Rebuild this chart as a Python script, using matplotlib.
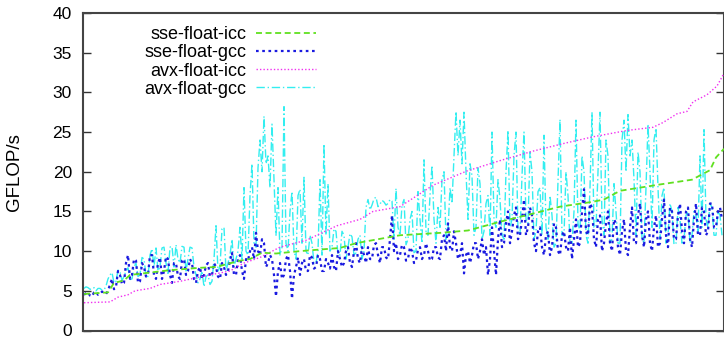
import matplotlib
matplotlib.use("Agg")
import matplotlib.pyplot as plt

plt.rcParams['font.family'] = ['Liberation Sans', 'DejaVu Sans']

# benchmark index (sorted kernels)
idx = list(range(320))

# sse-float-gcc (noisy)
sse_gcc = [4.5, 4.7, 4.8, 4.4, 4.3, 4.8, 4.9, 4.5, 4.6, 4.9, 4.8, 4.6,
           5.0, 5.8, 6.5, 5.2, 5.5, 7.5, 7.0, 5.8, 6.0, 8.5, 9.5, 6.5,
           7.0, 9.0, 8.8, 6.0, 6.2, 8.5, 8.0, 6.8, 7.0, 9.5, 9.5, 7.0,
           6.5, 8.5, 9.2, 6.5, 7.5, 9.3, 9.0, 7.0, 6.0, 8.5, 8.5, 6.8,
           6.5, 8.8, 9.0, 7.0, 7.5, 9.0, 8.5, 6.5, 6.0, 7.5, 8.0, 6.5,
           7.0, 8.2, 8.5, 6.8, 7.0, 8.5, 8.0, 6.8, 6.5, 8.5, 8.0, 7.0,
           7.5, 8.8, 9.8, 7.0, 7.0, 9.0, 9.5, 7.5, 6.5, 9.0, 8.8, 10.0,
           10.5, 9.0, 12.3, 10.0, 9.5, 11.5, 11.0, 8.0, 8.5, 9.5, 9.0, 7.0,
           4.3, 7.5, 8.5, 6.5, 7.0, 9.0, 9.5, 7.5, 4.0, 7.0, 8.0, 9.2,
           7.0, 8.5, 9.0, 7.5, 7.5, 9.5, 9.2, 7.8, 8.0, 9.5, 9.0, 7.5,
           7.5, 9.0, 8.5, 7.8, 9.5, 8.0, 7.5, 10.0, 9.0, 8.0, 8.5, 10.0,
           10.5, 8.5, 8.0, 10.0, 11.0, 9.0, 8.5, 10.5, 9.5, 8.5, 10.5, 9.0,
           9.0, 10.8, 11.0, 9.5, 8.5, 10.5, 10.5, 9.2, 9.0, 11.5, 14.5, 10.0,
           11.0, 9.0, 9.5, 10.8, 10.5, 8.8, 9.0, 10.5, 10.0, 8.5, 8.8, 10.2,
           10.5, 9.0, 9.5, 11.0, 10.0, 8.8, 9.0, 10.5, 10.5, 9.2, 9.0, 11.5,
           12.0, 10.0, 13.5, 10.5, 10.0, 12.5, 11.0, 9.0, 9.5, 11.0, 7.2, 9.5,
           10.0, 8.5, 9.5, 11.0, 11.0, 9.0, 10.0, 11.5, 9.5, 10.5, 7.0, 9.0,
           13.0, 10.0, 7.0, 11.5, 14.0, 10.5, 11.0, 13.5, 15.0, 11.0, 12.5, 14.5,
           15.5, 11.5, 12.0, 14.0, 16.5, 12.0, 13.0, 15.5, 14.5, 11.0, 10.0, 12.5,
           13.0, 10.5, 9.5, 12.0, 12.5, 9.5, 10.5, 13.5, 13.0, 10.0, 9.5, 12.0,
           12.5, 10.5, 10.0, 13.0, 9.0, 11.5, 14.0, 10.5, 11.0, 15.0, 17.8, 12.5,
           12.0, 16.0, 15.5, 11.5, 10.5, 14.0, 14.5, 10.0, 11.0, 13.5, 15.0, 11.0,
           10.0, 14.0, 13.5, 10.5, 9.5, 12.5, 14.0, 10.0, 9.5, 13.0, 15.5, 11.0,
           11.0, 14.5, 16.0, 12.0, 10.5, 14.0, 15.0, 11.0, 10.0, 13.0, 14.5, 10.5,
           11.0, 14.0, 16.5, 12.0, 10.5, 15.5, 15.0, 11.5, 11.5, 14.5, 16.0, 12.5,
           11.0, 15.0, 15.5, 11.5, 10.5, 14.0, 16.0, 12.0, 12.0, 15.5, 15.0, 12.0,
           12.5, 16.0, 16.0, 13.0, 13.0, 15.0, 15.5, 14.0]

# avx-float-gcc (noisy, spiky)
avx_gcc = [5.3, 5.5, 5.4, 5.2, 5.2, 5.4, 5.0, 5.3, 5.3, 5.1, 5.1, 5.6,
           6.5, 7.0, 7.3, 6.0, 6.2, 7.6, 7.4, 6.3, 6.8, 7.5, 7.9, 6.4,
           6.5, 8.0, 8.5, 6.8, 7.0, 9.2, 9.0, 7.0, 6.8, 9.5, 10.3, 8.0,
           10.4, 7.5, 8.0, 10.4, 10.5, 8.5, 7.2, 10.5, 10.6, 8.0, 10.8, 9.0,
           8.5, 10.6, 10.5, 7.5, 9.0, 10.5, 10.4, 8.0, 7.0, 6.0, 6.5, 7.5,
           5.5, 6.8, 7.0, 5.8, 6.2, 9.0, 13.2, 7.5, 8.0, 12.8, 13.0, 7.5,
           8.5, 9.5, 11.5, 8.0, 9.0, 10.0, 13.0, 9.0, 18.0, 10.0, 9.5, 17.0,
           21.0, 11.0, 10.5, 20.5, 24.0, 20.0, 27.0, 21.0, 22.0, 18.0, 26.0, 19.0,
           12.0, 18.0, 9.5, 10.5, 28.2, 11.0, 10.0, 15.0, 17.5, 10.0, 9.0, 17.0,
           17.8, 11.0, 19.3, 10.0, 9.5, 12.0, 11.0, 8.5, 8.5, 10.0, 19.0, 9.5,
           23.5, 12.0, 18.5, 10.0, 10.5, 12.8, 12.5, 9.5, 9.5, 12.5, 12.0, 9.0,
           10.5, 12.2, 11.8, 9.5, 9.8, 11.5, 12.0, 9.0, 10.0, 15.5, 16.5, 15.2,
           15.8, 16.6, 16.8, 15.6, 15.9, 16.4, 16.2, 15.8, 16.0, 16.5, 16.3, 11.5,
           17.9, 13.0, 12.0, 15.8, 16.5, 10.8, 11.5, 14.0, 15.0, 9.8, 10.0, 17.5,
           14.0, 11.0, 21.5, 12.5, 12.0, 17.0, 20.8, 14.0, 11.0, 15.5, 13.0, 19.0,
           20.0, 11.5, 12.5, 18.0, 16.0, 22.0, 27.6, 22.0, 26.5, 21.0, 27.5, 20.0,
           14.0, 21.0, 19.5, 12.0, 13.0, 20.5, 18.5, 11.5, 12.5, 16.0, 17.0, 12.0,
           25.0, 14.0, 13.0, 19.0, 16.5, 12.0, 11.5, 20.0, 25.2, 13.0, 14.0, 22.0,
           25.0, 12.5, 12.0, 19.5, 25.0, 14.0, 13.5, 22.5, 20.0, 11.5, 12.5, 17.5,
           18.0, 12.0, 24.6, 13.0, 11.5, 17.0, 14.5, 10.5, 11.0, 19.0, 26.6, 12.0,
           12.0, 20.0, 17.0, 11.0, 11.0, 15.0, 26.5, 13.5, 12.5, 22.0, 20.0, 12.0,
           11.0, 18.0, 27.5, 13.0, 13.0, 20.0, 27.5, 14.0, 12.0, 24.0, 22.0, 11.0,
           11.5, 18.5, 15.0, 11.0, 11.0, 24.0, 26.5, 20.0, 27.2, 22.0, 24.0, 19.0,
           12.0, 22.5, 20.0, 11.5, 11.0, 18.0, 26.0, 20.0, 13.0, 24.0, 25.5, 18.0,
           11.5, 17.0, 18.0, 11.0, 12.0, 16.0, 15.0, 10.8, 11.0, 15.5, 14.0, 11.0,
           11.5, 14.5, 15.0, 11.0, 12.0, 15.0, 14.5, 12.5, 22.0, 13.0, 25.3, 14.0,
           13.0, 16.0, 15.5, 12.0, 12.0, 15.0, 14.5, 12.0]

# sse-float-icc (smooth, read at breakpoints)
sse_icc_x = [0, 12, 15, 20, 23, 33, 43, 58, 66, 78, 83, 89, 96, 108, 128, 136,
             158, 178, 192, 208, 224, 238, 254, 260, 268, 288, 304, 313, 316, 320]
sse_icc = [4.6, 4.8, 6.0, 6.3, 7.0, 7.3, 7.6, 7.9, 8.0, 8.8, 9.0, 9.8, 9.7, 10.0, 10.4, 11.0,
           12.0, 12.3, 12.6, 13.7, 14.7, 15.6, 16.2, 16.5, 17.6, 18.4, 19.0, 20.2, 21.8, 22.9]

# avx-float-icc (smooth, read at breakpoints)
avx_icc_x = [0, 13, 17, 22, 25.5, 33, 38, 48, 55.5, 63, 73, 80, 88, 98, 111.5, 118,
             126.5, 138, 144.5, 158, 174.5, 191.5, 208, 224.5, 240.5, 254.5, 271.5, 284.5,
             289.5, 296.5, 301.5, 304.5, 311.5, 316.5, 320]
avx_icc = [3.5, 3.6, 4.2, 4.5, 5.0, 5.3, 5.8, 6.2, 6.6, 7.0, 7.5, 8.5, 9.2, 10.5, 11.4, 12.2,
           13.2, 14.0, 15.0, 15.6, 18.3, 20.1, 21.4, 22.6, 23.6, 24.4, 25.2, 25.6, 26.2,
           27.3, 27.6, 28.8, 29.7, 30.8, 32.4]

yticks = [0, 5, 10, 15, 20, 25, 30, 35, 40]

fig = plt.figure(figsize=(7.24, 3.39), dpi=100)
ax = fig.add_axes([83/724, 8.5/339, 641/724, 317.5/339])

l4, = ax.plot(idx, avx_gcc, color='#33eef0', lw=1.0, dashes=(6, 2, 1, 2), label='avx-float-gcc', zorder=2)
l2, = ax.plot(idx, sse_gcc, color='#1a1ae0', lw=1.6, dashes=(1.2, 1.6), label='sse-float-gcc', zorder=3)
l3, = ax.plot(avx_icc_x, avx_icc, color='#f030f0', lw=1.0, dashes=(1, 1.5), label='avx-float-icc', zorder=4)
l1, = ax.plot(sse_icc_x, sse_icc, color='#60e020', lw=1.3, dashes=(3.3, 2), label='sse-float-icc', zorder=5)

ax.set_xlim(-0.5, 320)
ax.set_ylim(0, 40)
ax.set_yticks(yticks)
ax.set_xticks([])
ax.tick_params(axis='y', direction='in', length=6, width=1, left=True, right=True,
               labelsize=12.5, pad=8, color='#333333')
for s in ax.spines.values():
    s.set_linewidth(1.5)
    s.set_color('#444444')
ax.set_ylabel('GFLOP/s', fontsize=13.5, labelpad=21)

leg = ax.legend(handles=[l1, l2, l3, l4], loc='upper right', markerfirst=False, frameon=False,
                bbox_to_anchor=((316-83)/641, (330.5-26)/317.5), borderaxespad=0, borderpad=0,
                handlelength=3.3, handletextpad=0.55, labelspacing=0.07, fontsize=13)

fig.savefig('out.png', dpi=100)
